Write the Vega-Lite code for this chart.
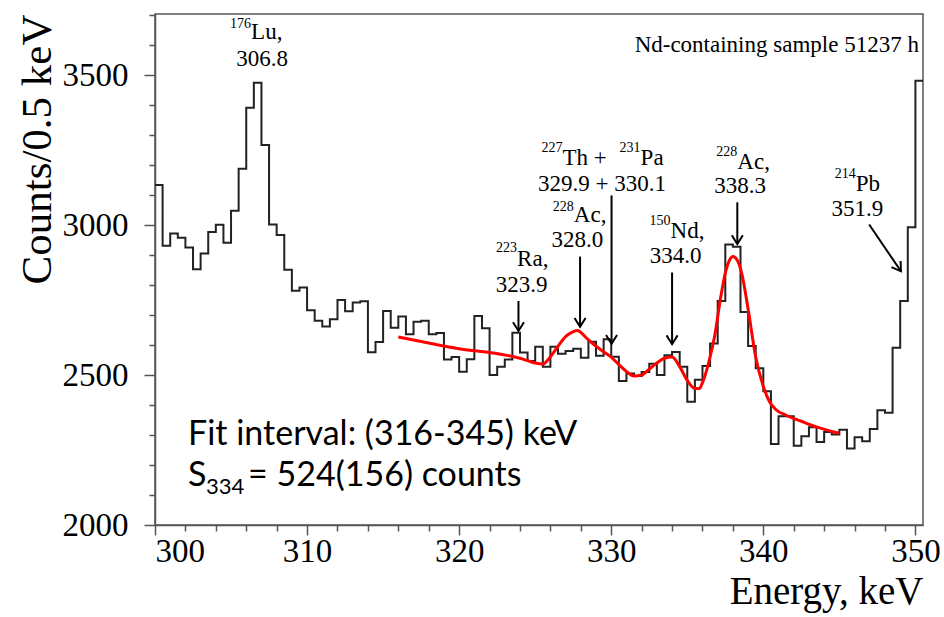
{
  "$schema": "https://vega.github.io/schema/vega-lite/v6.json",
  "width": 768,
  "height": 511,
  "autosize": "none",
  "padding": {"left": 155, "top": 14, "right": 21, "bottom": 92},
  "background": "white",
  "config": {
    "view": {"stroke": "#555", "strokeWidth": 1.5},
    "axis": {"grid": false, "domainColor": "#555", "domainWidth": 1.5, "tickColor": "#555", "tickWidth": 1.5, "labelColor": "black", "titleColor": "black", "labelFont": "Liberation Serif", "titleFont": "Liberation Serif", "titleFontWeight": "normal"}
  },
  "resolve": {"axis": {"x": "independent", "y": "independent"}},
  "datasets": {
    "hist": [
      {"E":300.0,"c":3134},{"E":300.5,"c":2931},{"E":301.0,"c":2972},{"E":301.5,"c":2958},{"E":302.0,"c":2925},{"E":302.5,"c":2853},{"E":303.0,"c":2905},{"E":303.5,"c":2977},{"E":304.0,"c":3001},{"E":304.5,"c":2941},
      {"E":305.0,"c":3048},{"E":305.5,"c":3188},{"E":306.0,"c":3391},{"E":306.5,"c":3475},{"E":307.0,"c":3267},{"E":307.5,"c":3002},{"E":308.0,"c":2967},{"E":308.5,"c":2851},{"E":309.0,"c":2781},{"E":309.5,"c":2792},
      {"E":310.0,"c":2716},{"E":310.5,"c":2681},{"E":311.0,"c":2662},{"E":311.5,"c":2686},{"E":312.0,"c":2750},{"E":312.5,"c":2713},{"E":313.0,"c":2742},{"E":313.5,"c":2746},{"E":314.0,"c":2576},{"E":314.5,"c":2610},
      {"E":315.0,"c":2714},{"E":315.5,"c":2658},{"E":316.0,"c":2695},{"E":316.5,"c":2636},{"E":317.0,"c":2678},{"E":317.5,"c":2681},{"E":318.0,"c":2636},{"E":318.5,"c":2640},{"E":319.0,"c":2552},{"E":319.5,"c":2560},
      {"E":320.0,"c":2511},{"E":320.5,"c":2553},{"E":321.0,"c":2697},{"E":321.5,"c":2656},{"E":322.0,"c":2500},{"E":322.5,"c":2528},{"E":323.0,"c":2552},{"E":323.5,"c":2641},{"E":324.0,"c":2575},{"E":324.5,"c":2547},
      {"E":325.0,"c":2594},{"E":325.5,"c":2528},{"E":326.0,"c":2594},{"E":326.5,"c":2571},{"E":327.0,"c":2580},{"E":327.5,"c":2588},{"E":328.0,"c":2558},{"E":328.5,"c":2611},{"E":329.0,"c":2564},{"E":329.5,"c":2619},
      {"E":330.0,"c":2561},{"E":330.5,"c":2480},{"E":331.0,"c":2505},{"E":331.5,"c":2497},{"E":332.0,"c":2510},{"E":332.5,"c":2538},{"E":333.0,"c":2500},{"E":333.5,"c":2566},{"E":334.0,"c":2577},{"E":334.5,"c":2528},
      {"E":335.0,"c":2411},{"E":335.5,"c":2484},{"E":336.0,"c":2530},{"E":336.5,"c":2605},{"E":337.0,"c":2747},{"E":337.5,"c":2935},{"E":338.0,"c":2928},{"E":338.5,"c":2710},{"E":339.0,"c":2597},{"E":339.5,"c":2523},
      {"E":340.0,"c":2446},{"E":340.5,"c":2270},{"E":341.0,"c":2363},{"E":341.5,"c":2363},{"E":342.0,"c":2264},{"E":342.5,"c":2296},{"E":343.0,"c":2326},{"E":343.5,"c":2277},{"E":344.0,"c":2310},{"E":344.5,"c":2302},
      {"E":345.0,"c":2318},{"E":345.5,"c":2255},{"E":346.0,"c":2293},{"E":346.5,"c":2279},{"E":347.0,"c":2320},{"E":347.5,"c":2383},{"E":348.0,"c":2374},{"E":348.5,"c":2591},{"E":349.0,"c":2747},{"E":349.5,"c":2993},
      {"E":350.0,"c":3481},{"E":350.5,"c":3481}
    ],
    "fit": [
      {"E":316.0,"c":2627},{"E":317.0,"c":2617},{"E":318.0,"c":2607},{"E":319.0,"c":2597},{"E":320.0,"c":2588},{"E":321.0,"c":2581},{"E":322.0,"c":2575},{"E":323.0,"c":2567},{"E":324.0,"c":2556},{"E":324.5,"c":2548},
      {"E":325.0,"c":2540},{"E":325.5,"c":2537},{"E":326.0,"c":2561},{"E":326.5,"c":2596},{"E":327.0,"c":2628},{"E":327.5,"c":2645},{"E":327.8,"c":2649},{"E":328.2,"c":2632},{"E":328.5,"c":2617},{"E":329.0,"c":2596},
      {"E":329.5,"c":2578},{"E":330.0,"c":2560},{"E":330.5,"c":2535},{"E":331.0,"c":2512},{"E":331.5,"c":2497},{"E":332.0,"c":2500},{"E":332.5,"c":2520},{"E":333.0,"c":2540},{"E":333.5,"c":2556},{"E":334.0,"c":2560},
      {"E":334.5,"c":2528},{"E":335.0,"c":2482},{"E":335.5,"c":2455},{"E":335.8,"c":2455},{"E":336.0,"c":2475},{"E":336.4,"c":2540},{"E":336.8,"c":2630},{"E":337.2,"c":2760},{"E":337.5,"c":2840},{"E":337.8,"c":2885},
      {"E":338.0,"c":2895},{"E":338.3,"c":2882},{"E":338.6,"c":2835},{"E":339.0,"c":2720},{"E":339.5,"c":2560},{"E":340.0,"c":2462},{"E":340.4,"c":2412},{"E":340.8,"c":2386},{"E":341.5,"c":2366},{"E":342.5,"c":2346},
      {"E":343.5,"c":2327},{"E":344.5,"c":2312},{"E":345.0,"c":2306}
    ],
    "arrows": [
      {"id":"Ra","x":323.9,"y":2747,"x2":323.9,"y2":2647},
      {"id":"Ac328","x":327.95,"y":2895,"x2":327.95,"y2":2661},
      {"id":"ThPa","x":330.02,"y":3099,"x2":330.02,"y2":2604},
      {"id":"Nd","x":334.0,"y":2842,"x2":334.0,"y2":2603},
      {"id":"Ac338","x":338.29,"y":3076,"x2":338.29,"y2":2937},
      {"id":"Pb","x":346.96,"y":3002,"x2":349.05,"y2":2846}
    ],
    "labels": [
      {"k":"sup","t":"176","x":306.32,"y":3658},
      {"k":"name","t":"Lu,","x":306.32,"y":3620},
      {"k":"val","t":"306.8","x":307.05,"y":3532},
      {"k":"sup","t":"223","x":323.81,"y":2912},
      {"k":"name","t":"Ra,","x":323.81,"y":2863},
      {"k":"val","t":"323.9","x":324.11,"y":2776},
      {"k":"sup","t":"228","x":327.54,"y":3046},
      {"k":"name","t":"Ac,","x":327.54,"y":3012},
      {"k":"val","t":"328.0","x":327.78,"y":2927},
      {"k":"sup","t":"227","x":326.79,"y":3244},
      {"k":"name","t":"Th + ","x":326.79,"y":3201},
      {"k":"sup","t":"231","x":331.93,"y":3244},
      {"k":"name","t":"Pa","x":331.93,"y":3201},
      {"k":"val","t":"329.9 + 330.1","x":329.39,"y":3113},
      {"k":"sup","t":"150","x":333.90,"y":3002},
      {"k":"name","t":"Nd,","x":333.90,"y":2958},
      {"k":"val","t":"334.0","x":334.23,"y":2875},
      {"k":"sup","t":"228","x":338.29,"y":3230},
      {"k":"name","t":"Ac,","x":338.29,"y":3188},
      {"k":"val","t":"338.3","x":338.48,"y":3106},
      {"k":"sup","t":"214","x":346.08,"y":3158},
      {"k":"name","t":"Pb","x":346.08,"y":3113},
      {"k":"val","t":"351.9","x":346.19,"y":3030},
      {"k":"title","t":"Nd-containing sample 51237 h","x":350.23,"y":3577},
      {"k":"fit","t":"Fit interval: (316-345) keV","x":302.17,"y":2266},
      {"k":"fit","t":"S","x":302.17,"y":2129},
      {"k":"fitsub","t":"334","x":303.36,"y":2102},
      {"k":"fit","t":"= 524(156) counts","x":306.12,"y":2129}
    ]
  },
  "layer": [
    {
      "data": {"name": "hist"},
      "mark": {"type": "line", "interpolate": "step-after", "color": "#222", "strokeWidth": 2},
      "encoding": {
        "x": {"field": "E", "type": "quantitative", "scale": {"domain": [300, 350.5], "nice": false, "zero": false},
          "axis": {"orient": "bottom", "values": [300, 310, 320, 330, 340, 350], "format": "d", "labelOverlap": false, "labelFontSize": 33, "labelPadding": 0, "tickSize": 10,
            "title": "Energy, keV", "titleFontSize": 39, "titleAnchor": "end", "titlePadding": 4}},
        "y": {"field": "c", "type": "quantitative", "scale": {"domain": [2000, 3704], "nice": false, "zero": false},
          "axis": {"orient": "left", "values": [2000, 2500, 3000, 3500], "format": "d", "labelOverlap": false, "labelFontSize": 33, "labelPadding": 16, "tickSize": 11,
            "title": "Counts/0.5 keV", "titleFontSize": 43, "titleAnchor": "end", "titlePadding": 3}}
      }
    },
    {
      "data": {"name": "fit"},
      "mark": {"type": "line", "interpolate": "monotone", "color": "#FF0000", "strokeWidth": 3},
      "encoding": {
        "x": {"field": "E", "type": "quantitative",
          "axis": {"orient": "bottom", "values": [302,304,306,308,312,314,316,318,322,324,326,328,332,334,336,338,342,344,346,348], "labels": false, "domain": false, "tickSize": 6, "title": null}},
        "y": {"field": "c", "type": "quantitative",
          "axis": {"orient": "left", "values": [2100,2200,2300,2400,2600,2700,2800,2900,3100,3200,3300,3400,3600,3700], "labels": false, "domain": false, "tickSize": 6, "title": null}}
      }
    },
    {
      "data": {"name": "arrows"},
      "mark": {"type": "rule", "color": "black", "strokeWidth": 2},
      "encoding": {"x": {"field": "x", "type": "quantitative", "axis": null}, "y": {"field": "y", "type": "quantitative", "axis": null}, "x2": {"field": "x2"}, "y2": {"field": "y2"}}
    },
    {
      "data": {"name": "arrows"},
      "transform": [{"filter": "datum.id !== 'Pb'"}],
      "mark": {"type": "point", "shape": "M-1,-1.6L0,0L1,-1.6", "filled": false, "stroke": "black", "strokeWidth": 2, "size": 121, "opacity": 1},
      "encoding": {"x": {"field": "x2", "type": "quantitative", "axis": null}, "y": {"field": "y2", "type": "quantitative", "axis": null}}
    },
    {
      "data": {"name": "arrows"},
      "transform": [{"filter": "datum.id === 'Pb'"}],
      "mark": {"type": "point", "shape": "M-1,-1.6L0,0L1,-1.6", "filled": false, "stroke": "black", "strokeWidth": 2, "size": 121, "opacity": 1, "angle": -34},
      "encoding": {"x": {"field": "x2", "type": "quantitative", "axis": null}, "y": {"field": "y2", "type": "quantitative", "axis": null}}
    },
    {
      "data": {"name": "labels"},
      "transform": [{"filter": "datum.k === 'sup'"}],
      "mark": {"type": "text", "align": "right", "baseline": "alphabetic", "font": "Liberation Serif", "fontSize": 14, "color": "black"},
      "encoding": {"x": {"field": "x", "type": "quantitative", "axis": null}, "y": {"field": "y", "type": "quantitative", "axis": null}, "text": {"field": "t"}}
    },
    {
      "data": {"name": "labels"},
      "transform": [{"filter": "datum.k === 'name'"}],
      "mark": {"type": "text", "align": "left", "baseline": "alphabetic", "font": "Liberation Serif", "fontSize": 23, "color": "black"},
      "encoding": {"x": {"field": "x", "type": "quantitative", "axis": null}, "y": {"field": "y", "type": "quantitative", "axis": null}, "text": {"field": "t"}}
    },
    {
      "data": {"name": "labels"},
      "transform": [{"filter": "datum.k === 'val'"}],
      "mark": {"type": "text", "align": "center", "baseline": "alphabetic", "font": "Liberation Serif", "fontSize": 23, "color": "black"},
      "encoding": {"x": {"field": "x", "type": "quantitative", "axis": null}, "y": {"field": "y", "type": "quantitative", "axis": null}, "text": {"field": "t"}}
    },
    {
      "data": {"name": "labels"},
      "transform": [{"filter": "datum.k === 'title'"}],
      "mark": {"type": "text", "align": "right", "baseline": "alphabetic", "font": "Liberation Serif", "fontSize": 23, "color": "black"},
      "encoding": {"x": {"field": "x", "type": "quantitative", "axis": null}, "y": {"field": "y", "type": "quantitative", "axis": null}, "text": {"field": "t"}}
    },
    {
      "data": {"name": "labels"},
      "transform": [{"filter": "datum.k === 'fit'"}],
      "mark": {"type": "text", "align": "left", "baseline": "alphabetic", "font": "Lato", "fontSize": 34, "color": "black"},
      "encoding": {"x": {"field": "x", "type": "quantitative", "axis": null}, "y": {"field": "y", "type": "quantitative", "axis": null}, "text": {"field": "t"}}
    },
    {
      "data": {"name": "labels"},
      "transform": [{"filter": "datum.k === 'fitsub'"}],
      "mark": {"type": "text", "align": "left", "baseline": "alphabetic", "font": "Lato", "fontSize": 22, "color": "black"},
      "encoding": {"x": {"field": "x", "type": "quantitative", "axis": null}, "y": {"field": "y", "type": "quantitative", "axis": null}, "text": {"field": "t"}}
    }
  ]
}
